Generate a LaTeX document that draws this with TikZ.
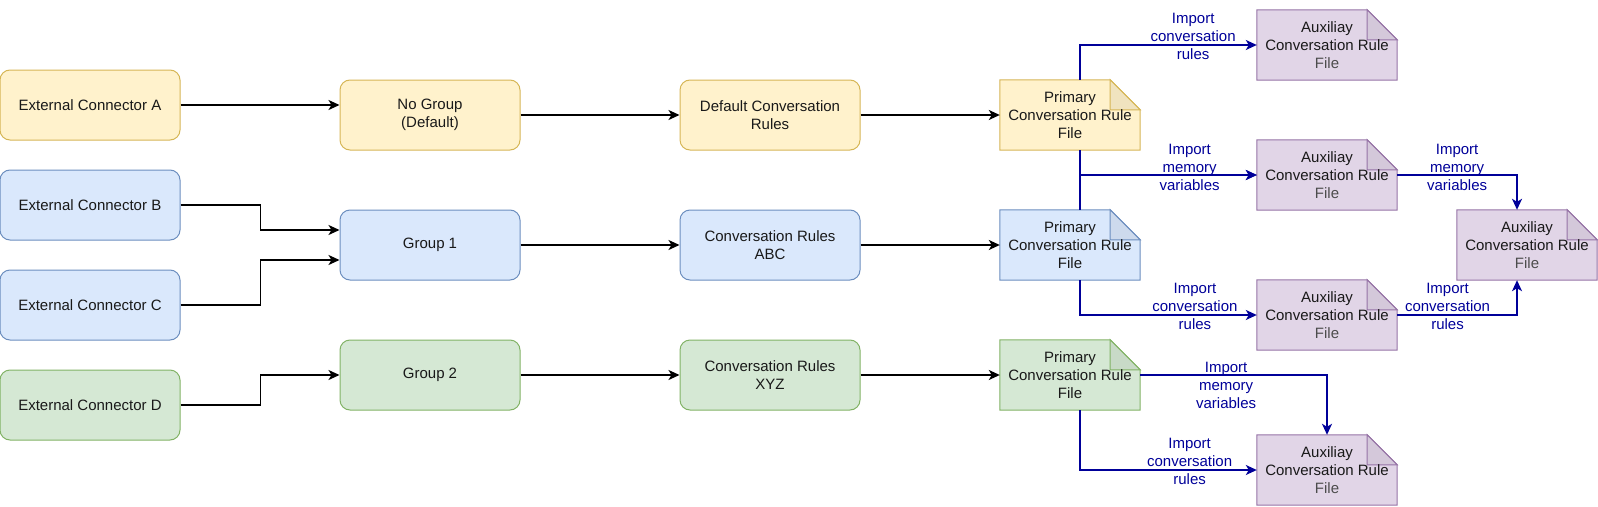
\documentclass[tikz,border=0pt]{standalone}
\usepackage{fontspec}
\setmainfont{Liberation Sans}
\usetikzlibrary{arrows.meta,calc}

\definecolor{ylwfill}{HTML}{FFF2CC}
\definecolor{ylwline}{HTML}{D6B656}
\definecolor{ylwfold}{HTML}{F0E3BF}
\definecolor{bluefill}{HTML}{DAE8FC}
\definecolor{blueline}{HTML}{6C8EBF}
\definecolor{bluefold}{HTML}{CDDAED}
\definecolor{grnfill}{HTML}{D5E8D4}
\definecolor{grnline}{HTML}{82B366}
\definecolor{grnfold}{HTML}{C8DAC7}
\definecolor{purfill}{HTML}{E1D5E7}
\definecolor{purline}{HTML}{9673A6}
\definecolor{purfold}{HTML}{D4C8DA}
\definecolor{impblue}{HTML}{000099}

\tikzset{
	box/.style={shape=rectangle, rounded corners=10pt, minimum width=180pt, minimum height=70pt, align=center, line width=1pt, font=\fontsize{15}{18}\selectfont, text=black!90},
	ylw/.style={box, fill=ylwfill, draw=ylwline},
	blu/.style={box, fill=bluefill, draw=blueline},
	grn/.style={box, fill=grnfill, draw=grnline},
	filearea/.style={shape=rectangle, minimum width=140pt, minimum height=70pt, inner sep=0pt},
	filetext/.style={align=center, font=\fontsize{15}{18}\selectfont, text=black!90},
	flow/.style={-{Stealth[length=11pt,width=10pt,inset=3pt]}, line width=1.6pt},
	imp/.style={flow, draw=impblue},
	lbl/.style={align=center, text=impblue, font=\fontsize{15}{18}\selectfont}
}

% note shaped file: name, position, colour, text
\newcommand{\rulefile}[4]{%
	\node[filearea] (#1) at (#2) {};
	\filldraw[fill=#3fill, draw=#3line, line width=1pt] (#1.south west) -- (#1.north west) -- ([xshift=-30pt]#1.north east) -- ([yshift=-30pt]#1.north east) -- (#1.south east) -- cycle;
	\filldraw[fill=#3fold, draw=#3line, line width=1pt] ([xshift=-30pt]#1.north east) -- ([xshift=-30pt,yshift=-30pt]#1.north east) -- ([yshift=-30pt]#1.north east) -- cycle;
	\node[filetext] at (#1.center) {#4};
}

\begin{document}
\begin{tikzpicture}[x=1pt, y=-1pt]
	\useasboundingbox (0,0) rectangle (1598,506);

	\node[ylw] (extA) at (90, 105)     {External Connector A};
	\node[blu] (extB) at (90, 205)     {External Connector B};
	\node[blu] (extC) at (90, 305)     {External Connector C};
	\node[grn] (extD) at (90, 405)     {External Connector D};

	\node[ylw] (grp0) at (430, 115)    {No Group\\(Default)};
	\node[blu] (grp1) at (430, 245)    {Group 1};
	\node[grn] (grp2) at (430, 375)    {Group 2};

	\node[ylw] (rules0) at (770, 115)  {Default Conversation\\Rules};
	\node[blu] (rules1) at (770, 245)  {Conversation Rules\\ABC};
	\node[grn] (rules2) at (770, 375)  {Conversation Rules\\XYZ};

	\rulefile{prim0}{1070, 115}{ylw}{Primary\\Conversation Rule\\File}
	\rulefile{prim1}{1070, 245}{blue}{Primary\\Conversation Rule\\File}
	\rulefile{prim2}{1070, 375}{grn}{Primary\\Conversation Rule\\File}

	\rulefile{aux1}{1327, 45}{pur}{Auxiliay\\Conversation Rule\\\textcolor{black!70}{File}}
	\rulefile{aux2}{1327, 175}{pur}{Auxiliay\\Conversation Rule\\\textcolor{black!70}{File}}
	\rulefile{aux3}{1327, 315}{pur}{Auxiliay\\Conversation Rule\\\textcolor{black!70}{File}}
	\rulefile{aux4}{1327, 470}{pur}{Auxiliay\\Conversation Rule\\\textcolor{black!70}{File}}
	\rulefile{auxR}{1527, 245}{pur}{Auxiliay\\Conversation Rule\\\textcolor{black!70}{File}}

	\draw[flow] (extA.east) -- (extA.east -| grp0.west);
	\draw[flow] (extB.east) -- ++(80,0) |- ([yshift=15pt]grp1.west);
	\draw[flow] (extC.east) -- ++(80,0) |- ([yshift=-15pt]grp1.west);
	\draw[flow] (extD.east) -- ++(80,0) |- (grp2.west);

	\draw[flow] (grp0.east) -- (rules0.west);
	\draw[flow] (grp1.east) -- (rules1.west);
	\draw[flow] (grp2.east) -- (rules2.west);

	\draw[flow] (rules0.east) -- (prim0.west);
	\draw[flow] (rules1.east) -- (prim1.west);
	\draw[flow] (rules2.east) -- (prim2.west);

	\draw[imp] ([xshift=10pt]prim0.north) |- (aux1.west) node[lbl, pos=0.82, yshift=9pt] {Import\\conversation\\rules};
	\draw[imp] ([xshift=10pt]prim0.south) |- (aux2.west) node[lbl, pos=0.81, yshift=8pt] {Import\\memory\\variables};
	\draw[imp] ([xshift=10pt]prim1.north) |- (aux2.west);
	\draw[imp] ([xshift=10pt]prim1.south) |- (aux3.west) node[lbl, pos=0.825, yshift=9pt] {Import\\conversation\\rules};
	\draw[imp] (aux2.east) -| ([xshift=-10pt]auxR.north) node[lbl, pos=0.25, yshift=8pt] {Import\\memory\\variables};
	\draw[imp] (aux3.east) -| ([xshift=-10pt]auxR.south) node[lbl, pos=0.21, yshift=9pt] {Import\\conversation\\rules};
	\draw[imp] (prim2.east) -| (aux4.north) node[lbl, pos=0.23, yshift=-10pt] {Import\\memory\\variables};
	\draw[imp] ([xshift=10pt]prim2.south) |- (aux4.west) node[lbl, pos=0.81, yshift=9pt] {Import\\conversation\\rules};

\end{tikzpicture}
\end{document}
